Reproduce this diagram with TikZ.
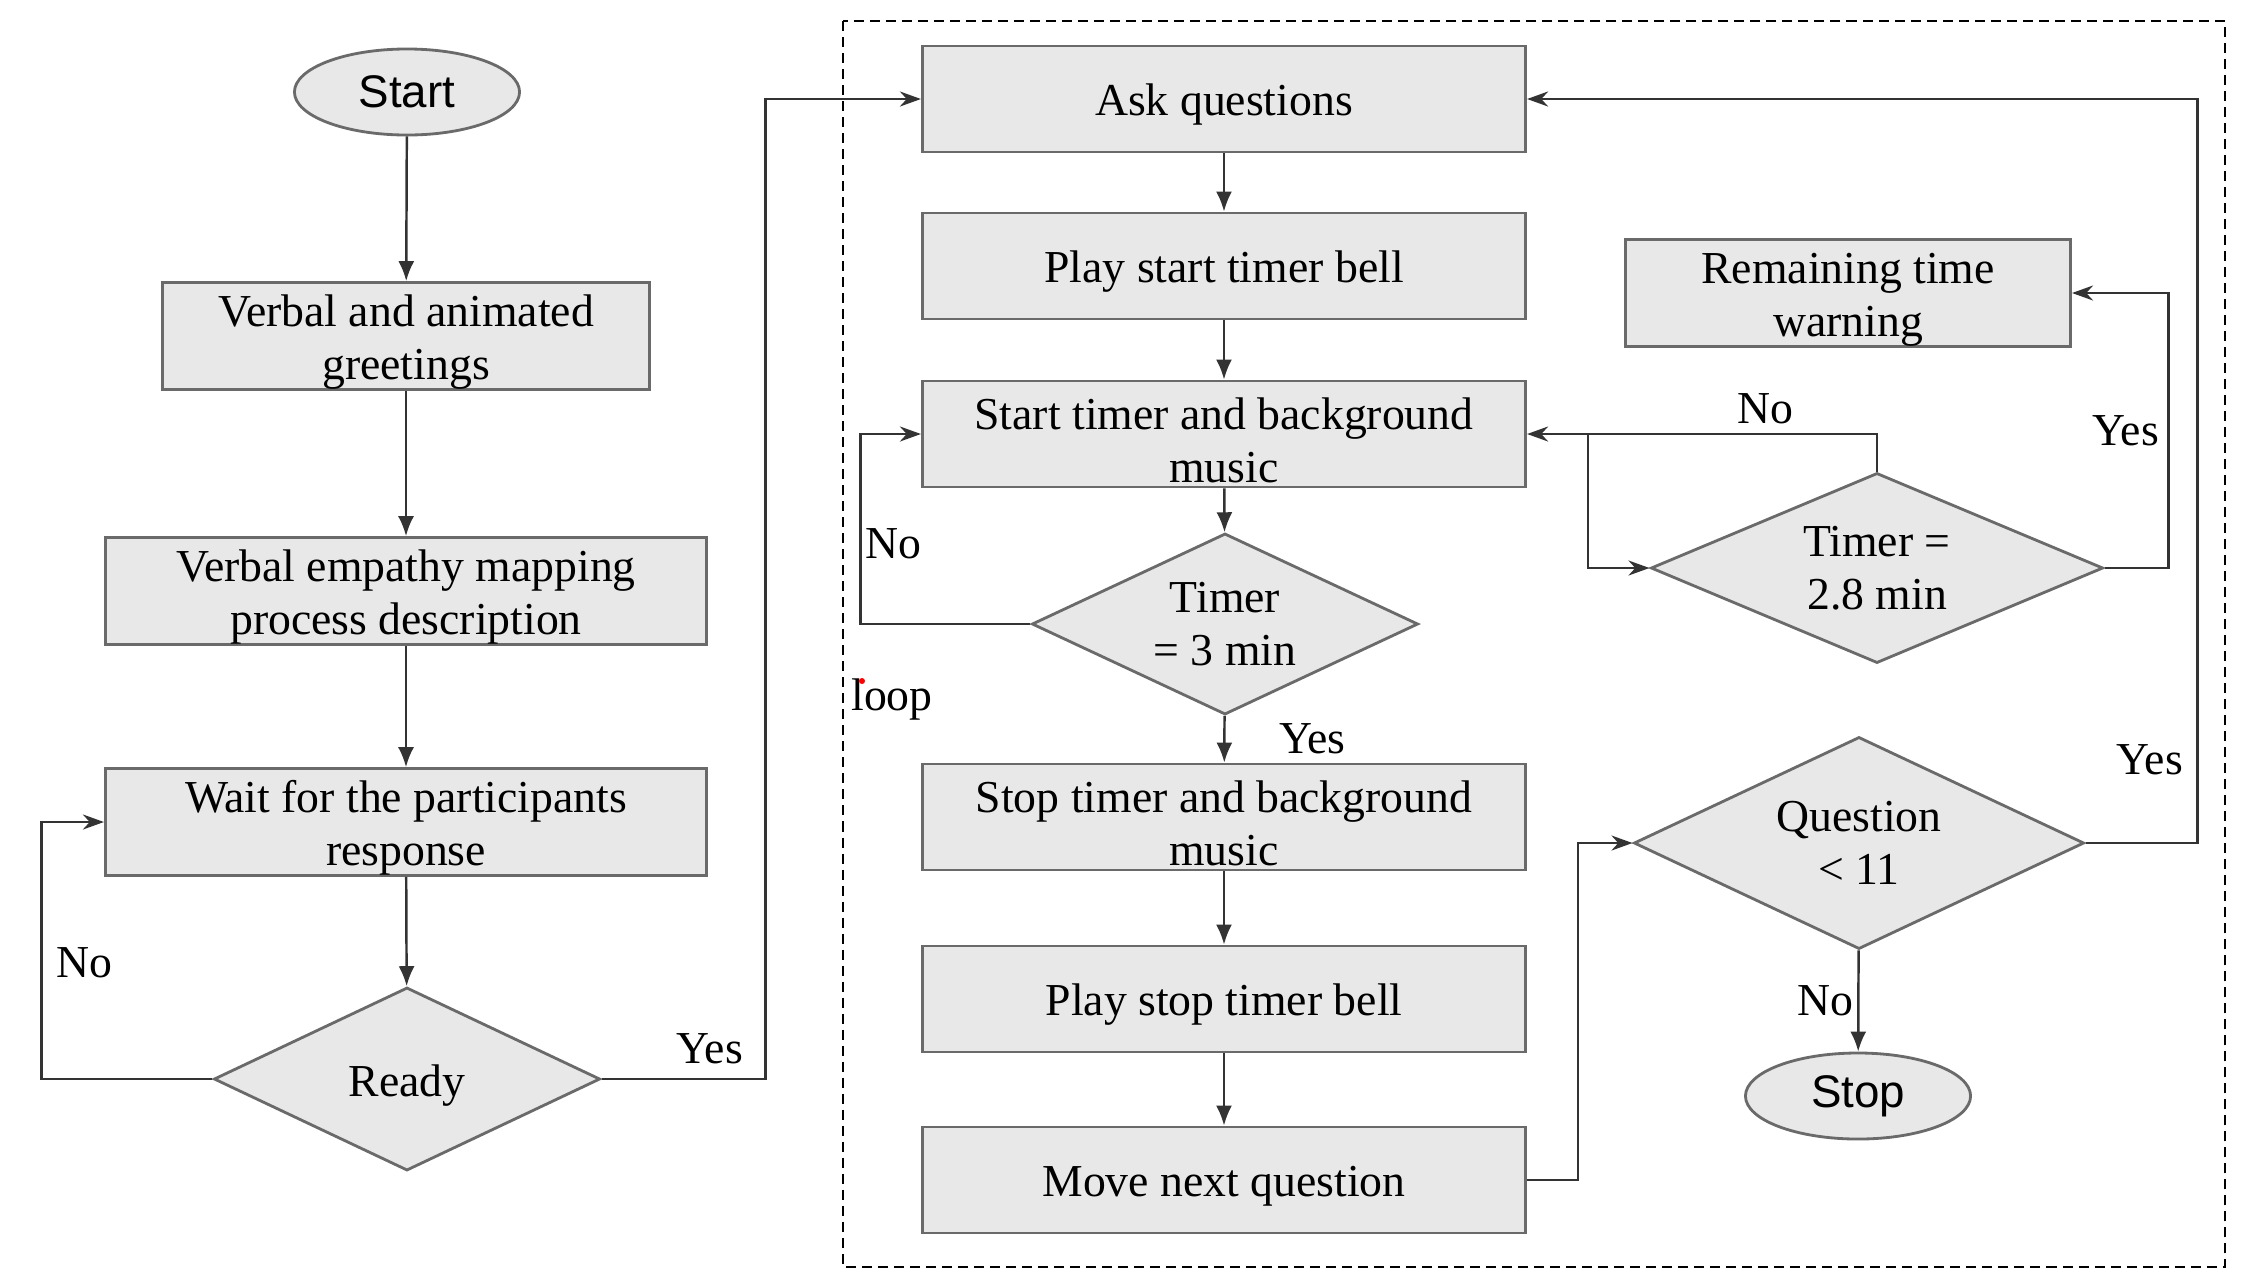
\documentclass[tikz,border=0pt]{standalone}
\usepackage{fontspec}
\setmainfont{Liberation Serif}
\newfontfamily\termfont{Liberation Sans}
\usetikzlibrary{shapes.geometric,arrows.meta}
\definecolor{boxfill}{HTML}{E8E8E8}
\definecolor{boxline}{HTML}{6A6A6A}
\definecolor{flowline}{HTML}{333333}

\begin{document}
\begin{tikzpicture}[
    x=0.01cm, y=-0.01cm,
    font=\fontsize{13pt}{15pt}\selectfont,
    box/.style={draw=boxline, fill=boxfill, line width=0.8pt, rectangle,
                minimum width=6.03cm, minimum height=1.06cm, inner sep=0pt, align=center,
                execute at begin node={\rule{0pt}{12.2pt}}},
    twoline/.style={execute at begin node={\rule{0pt}{27.6pt}}},
    decide/.style={draw=boxline, fill=boxfill, line width=0.8pt, diamond,
                   aspect=2, inner sep=0pt, align=center},
    term/.style={draw=boxline, fill=boxfill, line width=0.8pt, ellipse,
                 minimum width=2.25cm, minimum height=0.86cm, inner sep=0pt,
                 font=\termfont\fontsize{13pt}{15pt}\selectfont},
    flow/.style={draw=flowline, line width=0.7pt, -{Latex[length=0.2cm,width=0.16cm]}},
    loopflow/.style={draw=flowline, line width=0.7pt, -{Stealth[length=0.21cm,width=0.15cm]}},
    lbl/.style={inner sep=1pt}
  ]
  \fill[white] (0,0) rectangle (2243,1272);
  \useasboundingbox (0,0) rectangle (2243,1272);
  \draw[line width=0.6pt, dash pattern=on 0.1cm off 0.06cm] (843,21) rectangle (2225,1267);

  \node[term] (start) at (407,92) {Start};
  \node[box, twoline, minimum width=4.86cm] (greet) at (406,336) {Verbal and animated\\greetings};
  \node[box, twoline, minimum width=6.01cm] (empathy) at (406,591) {Verbal empathy mapping\\process description};
  \node[box, twoline, minimum width=6.01cm] (wait) at (406,822) {Wait for the participants\\response};
  \node[decide, minimum width=3.86cm, minimum height=1.83cm,
        execute at begin node={\rule{0pt}{13pt}}] (ready) at (407,1079) {Ready};

  \node[box] (ask) at (1224,99) {Ask questions};
  \node[box] (startbell) at (1224,266) {Play start timer bell};
  \node[box, twoline] (starttimer) at (1224,434) {Start timer and background\\music};
  \node[decide, minimum width=3.86cm, minimum height=1.81cm] (timer) at (1225,624) {Timer\\= 3 min};
  \node[box, twoline] (stoptimer) at (1224,817) {Stop timer and background\\music};
  \node[box] (stopbell) at (1224,999) {Play stop timer bell};
  \node[box] (next) at (1224,1180) {Move next question};

  \node[box, twoline, minimum width=4.45cm] (warn) at (1848,293) {Remaining time\\warning};
  \node[decide, minimum width=4.52cm, minimum height=1.90cm] (warntimer) at (1877,568) {Timer =\\2.8 min};
  \node[decide, minimum width=4.50cm, minimum height=2.12cm] (count) at (1859,843) {Question\\< 11};
  \node[term] (stop) at (1858,1096) {Stop};

  \node[lbl] (looptag) at (892,699) {loop};
  \fill[red] (862,681) circle (0.03cm);

  \draw[flow] (start) -- (greet);
  \draw[flow] (greet) -- (empathy);
  \draw[flow] (empathy) -- (wait);
  \draw[flow] (wait) -- (ready);
  \draw[loopflow] (ready.west) -- ++(-171,0) |- (wait.west) node[lbl, pos=0.227, right=0.1cm] {No};
  \draw[loopflow] (ready.east) -- ++(164,0) node[lbl, pos=0.66, above=0.1cm] {Yes} |- (ask.west);

  \draw[flow] (ask) -- (startbell);
  \draw[flow] (startbell) -- (starttimer);
  \draw[flow] (starttimer) -- (timer);
  \draw[flow] (timer) -- (stoptimer) node[lbl, midway, right=0.5cm] {Yes};
  \draw[flow] (stoptimer) -- (stopbell);
  \draw[flow] (stopbell) -- (next);
  \draw[loopflow] (timer.west) -- ++(-170,0) |- (starttimer.west) node[lbl, pos=0.21, right] {No};

  \coordinate (split) at ([xshift=0.61cm]starttimer.east);
  \draw[loopflow] (warntimer.north) |- (starttimer.east) node[lbl, pos=0.66, above=0.05cm] {No};
  \draw[loopflow] (split) |- (warntimer.west);
  \draw[loopflow] (warntimer.east) -- ++(64,0) |- (warn.east) node[lbl, pos=0.25, left=0.05cm] {Yes};
  \draw[loopflow] (next.east) -- ++(51,0) |- (count.west);
  \draw[loopflow] (count.east) -- ++(112,0) |- (ask.east) node[lbl, pos=0.056, left=0.1cm] {Yes};
  \draw[flow] (count) -- (stop) node[lbl, midway, left] {No};
\end{tikzpicture}
\end{document}
